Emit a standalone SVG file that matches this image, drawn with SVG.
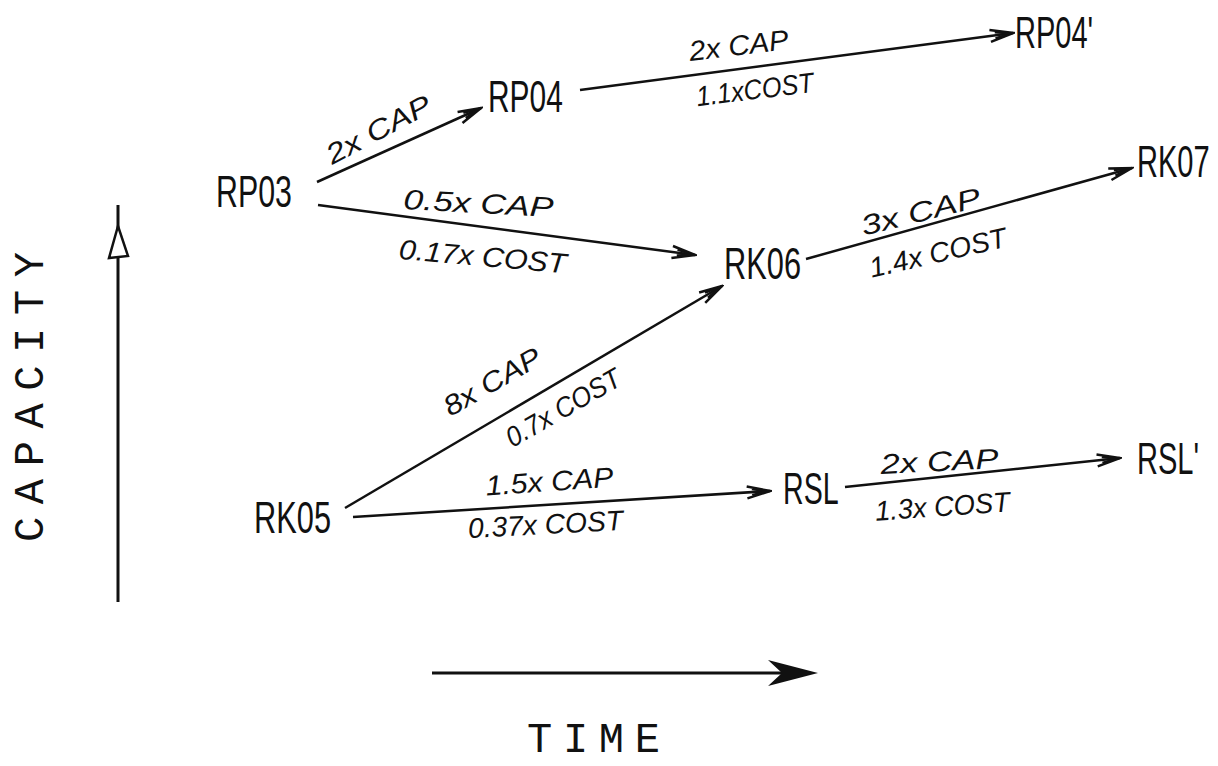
<svg xmlns="http://www.w3.org/2000/svg" width="1218" height="766" viewBox="0 0 1218 766">
<defs>
<style>
.node{font-family:"Liberation Sans",Arial,sans-serif;font-size:44px;fill:#111}
.lbl{font-family:"Liberation Sans",Arial,sans-serif;font-style:italic;font-size:28px;fill:#111;text-anchor:middle}
.axis{font-family:"Liberation Mono","DejaVu Sans Mono",monospace;font-size:42px;fill:#111}
.edge{stroke:#111;stroke-width:2.5;fill:none;marker-end:url(#ah)}
.ax{stroke:#111;stroke-width:3;fill:none}
</style>
<marker id="ah" markerUnits="userSpaceOnUse" markerWidth="28" markerHeight="16" refX="26" refY="8" orient="auto">
<path d="M3,2 L26,8 L3,14 M8,5 L24,8 L8,11" fill="none" stroke="#111" stroke-width="2.5" stroke-linejoin="miter"/>
</marker>
</defs>
<rect width="1218" height="766" fill="#fff"/>

<g id="axes">
<line class="ax" x1="118" y1="602" x2="118" y2="205"/>
<polygon points="118,226 109,258 128,256" fill="#fff" stroke="#111" stroke-width="2.5"/>
<line class="ax" x1="432" y1="673" x2="800" y2="673"/>
<path d="M818,673 L768,660 L782,673 L768,686 Z" fill="#111"/>
<text class="axis" transform="translate(43,542) rotate(-90)" textLength="290" lengthAdjust="spacing">CAPACITY</text>
<text class="axis" x="527" y="752" textLength="133" lengthAdjust="spacing">TIME</text>
</g>

<g id="connectors">
<line class="edge" x1="317" y1="182" x2="481" y2="108"/>
<line class="edge" x1="580" y1="90" x2="1013" y2="33"/>
<line class="edge" x1="318" y1="205" x2="695" y2="255"/>
<line class="edge" x1="806" y1="259" x2="1132" y2="168"/>
<line class="edge" x1="345" y1="508" x2="722" y2="286"/>
<line class="edge" x1="353" y1="517" x2="770" y2="491"/>
<line class="edge" x1="845" y1="487" x2="1120" y2="458"/>
</g>

<g id="edge-labels">
<text class="lbl" transform="translate(383,138) rotate(-28)" textLength="115" lengthAdjust="spacingAndGlyphs">2x CAP</text>
<text class="lbl" transform="translate(740,55) rotate(-7)" textLength="100" lengthAdjust="spacingAndGlyphs">2x CAP</text>
<text class="lbl" transform="translate(756,99) rotate(-7)" textLength="118" lengthAdjust="spacingAndGlyphs">1.1xCOST</text>
<text class="lbl" transform="translate(478,213) rotate(3)" textLength="150" lengthAdjust="spacingAndGlyphs">0.5x CAP</text>
<text class="lbl" transform="translate(482,266) rotate(5)" textLength="168" lengthAdjust="spacingAndGlyphs">0.17x COST</text>
<text class="lbl" transform="translate(923,221) rotate(-14)" textLength="122" lengthAdjust="spacingAndGlyphs">3x CAP</text>
<text class="lbl" transform="translate(940,262) rotate(-13)" textLength="140" lengthAdjust="spacingAndGlyphs">1.4x COST</text>
<text class="lbl" transform="translate(497,390) rotate(-30)" textLength="108" lengthAdjust="spacingAndGlyphs">8x CAP</text>
<text class="lbl" transform="translate(568,416) rotate(-30)" textLength="128" lengthAdjust="spacingAndGlyphs">0.7x COST</text>
<text class="lbl" transform="translate(550,491) rotate(-4)" textLength="128" lengthAdjust="spacingAndGlyphs">1.5x CAP</text>
<text class="lbl" transform="translate(546,534) rotate(-3)" textLength="155" lengthAdjust="spacingAndGlyphs">0.37x COST</text>
<text class="lbl" transform="translate(940,471) rotate(-3)" textLength="118" lengthAdjust="spacingAndGlyphs">2x CAP</text>
<text class="lbl" transform="translate(943,516) rotate(-4)" textLength="135" lengthAdjust="spacingAndGlyphs">1.3x COST</text>
</g>

<g id="RP03"><text class="node" transform="translate(216,207) scale(0.69,1)">RP03</text></g>
<g id="RP04"><text class="node" transform="translate(488,112) scale(0.68,1)">RP04</text></g>
<g id="RP04p"><text class="node" transform="translate(1015,48) scale(0.66,1)">RP04'</text></g>
<g id="RK07"><text class="node" transform="translate(1137,177) scale(0.66,1)">RK07</text></g>
<g id="RK06"><text class="node" transform="translate(724,279) scale(0.7,1)">RK06</text></g>
<g id="RK05"><text class="node" transform="translate(254,533) scale(0.7,1)">RK05</text></g>
<g id="RSL"><text class="node" transform="translate(783,504) scale(0.65,1)">RSL</text></g>
<g id="RSLp"><text class="node" transform="translate(1137,474) scale(0.66,1)">RSL'</text></g>
</svg>
